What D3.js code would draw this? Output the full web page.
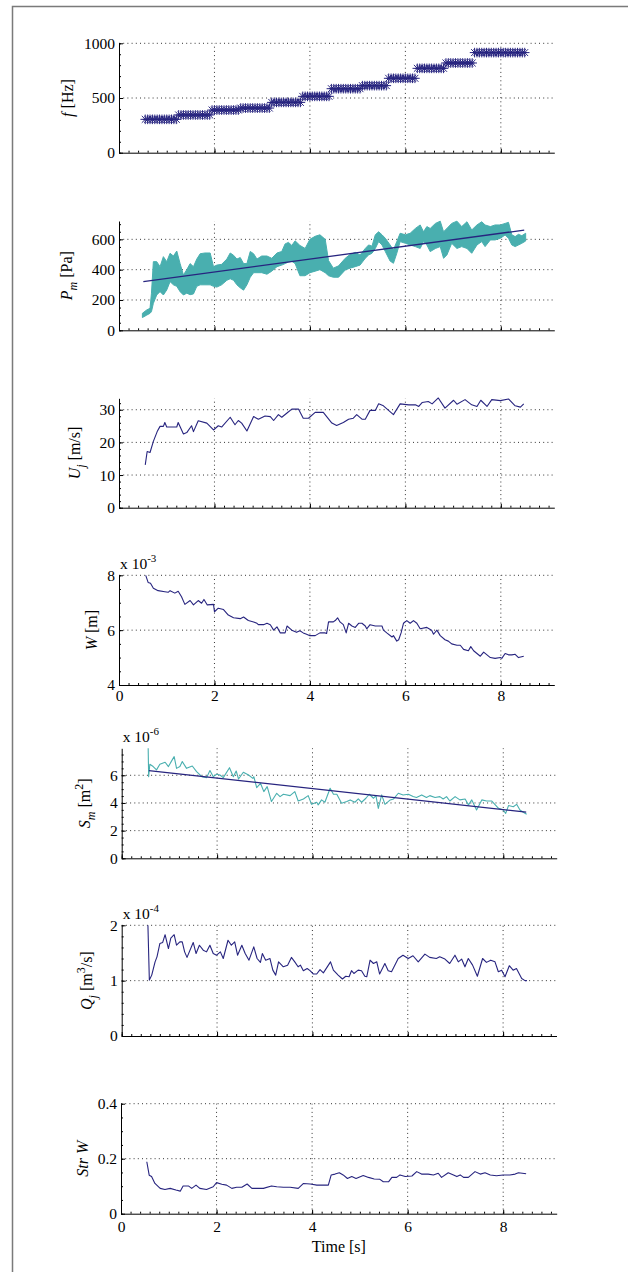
<!DOCTYPE html>
<html>
<head>
<meta charset="utf-8">
<script src="https://cdn.jsdelivr.net/npm/d3@7"></script>
<style>
body{margin:0;background:#fff;}
svg text{font-family:"Liberation Serif","Times New Roman",serif;fill:#000;}
.grid{stroke:#000;stroke-width:0.8;stroke-dasharray:1,3.2;}
</style>
</head>
<body>
<svg id="chart" width="628" height="1272"></svg>
<script>

//Shared x axis
var xMax = 9.12;
var xTicks = [0,2,4,6,8];

//f [Hz]: one value per analysis frame, frames every 0.05 s from 0.55 s
var fT0 = 0.55, fDt = 0.05;
var fHz = [
    305,305,305,305,305,305,305,305,305,305,305,305,305,305,
    345,345,345,345,345,345,345,345,345,345,345,345,345,345,
    390,390,390,390,390,390,390,390,390,390,390,390,
    408,408,408,408,408,408,408,408,408,408,408,408,408,
    460,460,460,460,460,460,460,460,460,460,460,460,460,
    515,515,515,515,515,515,515,515,515,515,515,515,
    585,585,585,585,585,585,585,585,585,585,585,585,585,
    613,613,613,613,613,613,613,613,613,613,613,
    680,680,680,680,680,680,680,680,680,680,680,680,
    771,771,771,771,771,771,771,771,771,771,771,771,
    820,820,820,820,820,820,820,820,820,820,820,820,
    915,915,915,915,915,915,915,915,915,915,915,915,915,915,915,915,915,915,915,915,915,915
];

//P_m [Pa]: envelope of the fast oscillating pressure + linear fit
var pT = [0.49,0.58,0.65,0.68,0.72,0.79,0.86,0.93,1.00,1.07,1.14,1.21,1.28,1.35,1.42,1.49,1.56,1.63,1.70,1.80,
    1.91,1.98,2.05,2.15,2.26,2.33,2.40,2.47,2.54,2.61,2.68,2.75,2.82,2.89,2.99,3.10,3.20,3.31,3.41,3.48,
    3.55,3.62,3.69,3.79,3.90,4.00,4.11,4.21,4.32,4.39,4.49,4.60,4.74,4.84,4.95,5.05,5.16,5.23,5.30,5.37,
    5.44,5.51,5.58,5.68,5.75,5.82,5.89,6.00,6.10,6.21,6.31,6.38,6.45,6.52,6.63,6.73,6.80,6.87,6.97,7.08,
    7.18,7.29,7.39,7.50,7.60,7.67,7.78,7.88,7.99,8.09,8.16,8.23,8.30,8.37,8.44,8.52];
var pLo = [84,100,112,123,178,233,255,233,266,321,300,290,255,233,245,235,240,290,300,300,
    300,290,285,300,330,340,330,300,280,265,300,350,380,380,380,370,390,420,430,440,
    450,455,440,360,360,380,390,400,380,360,350,350,398,410,420,430,475,497,508,540,
    585,563,519,457,442,508,585,574,563,552,540,585,563,519,540,552,475,497,574,540,
    552,540,508,563,585,552,596,596,607,629,607,563,552,563,574,589];
var pHi = [112,134,145,244,453,453,420,486,453,508,490,523,440,365,400,440,420,470,505,510,
    510,420,430,435,470,510,495,470,480,440,440,520,505,470,490,490,475,510,520,570,
    580,560,590,560,540,600,620,630,600,460,410,425,475,500,514,497,540,563,555,630,
    650,630,607,563,530,585,640,630,640,672,695,650,684,672,705,720,650,672,705,720,
    684,716,662,695,716,695,684,695,695,705,712,630,618,633,624,640];
var pFitT = [0.51, 8.49];
var pFitV = [321, 661];

//U_j [m/s]
var uT = [0.55,0.59,0.65,0.72,0.80,0.86,0.93,0.96,1.00,1.21,1.24,1.35,1.42,1.52,1.56,1.66,1.84,1.98,2.08,2.15,
    2.33,2.43,2.50,2.57,2.68,2.82,2.92,3.06,3.17,3.24,3.34,3.41,3.52,3.62,3.76,3.86,3.97,4.11,4.28,4.46,
    4.56,4.70,4.81,4.91,4.98,5.09,5.16,5.26,5.37,5.44,5.54,5.75,5.89,6.07,6.21,6.28,6.35,6.48,6.56,6.69,
    6.83,7.01,7.08,7.25,7.39,7.50,7.58,7.71,7.81,7.99,8.16,8.30,8.41,8.48];
var uV = [13.1,17.2,16.9,20.3,23.3,24.9,24.9,26.1,24.7,24.7,26.1,22.6,23.0,25.1,23.3,26.6,25.9,23.8,25.1,24.7,
    27.7,25.4,26.7,25.9,23.5,27.9,27.1,28.1,27.9,26.7,28.5,27.7,29.0,30.2,30.2,27.4,27.4,29.2,29.2,25.9,
    25.2,26.1,27.1,27.4,28.5,27.1,27.1,29.8,29.8,31.8,31.2,28.5,31.8,31.5,31.5,31.0,32.2,32.5,31.8,33.6,
    30.5,32.9,31.7,33.1,31.5,31.0,32.9,31.0,33.1,32.8,33.3,31.2,30.8,31.8];

//W [m] (x 10^-3)
var wT = [0.56,0.61,0.66,0.72,0.82,0.96,1.03,1.07,1.17,1.24,1.31,1.38,1.49,1.56,1.66,1.73,1.78,1.85,1.98,2.00,
    2.08,2.19,2.29,2.40,2.54,2.61,2.71,2.82,2.89,2.92,3.03,3.10,3.17,3.24,3.31,3.38,3.48,3.52,3.62,3.72,
    3.79,3.86,3.93,4.00,4.11,4.21,4.32,4.35,4.39,4.49,4.53,4.58,4.63,4.70,4.76,4.81,4.88,4.95,5.02,5.09,
    5.16,5.19,5.26,5.37,5.51,5.54,5.61,5.72,5.75,5.82,5.86,5.91,5.96,6.03,6.10,6.17,6.24,6.31,6.45,6.55,
    6.59,6.66,6.73,6.83,6.90,6.97,7.08,7.15,7.22,7.32,7.37,7.43,7.50,7.57,7.64,7.71,7.78,7.88,7.99,8.02,
    8.09,8.16,8.23,8.30,8.37,8.48];
var wV = [8.0,7.74,7.71,7.53,7.44,7.40,7.38,7.44,7.35,7.42,7.22,6.94,7.08,6.92,7.08,6.98,7.12,6.92,6.94,6.67,
    6.80,6.75,6.55,6.45,6.42,6.48,6.35,6.30,6.25,6.20,6.20,6.25,6.20,6.00,6.12,5.90,5.90,6.15,6.00,5.92,
    5.98,5.90,5.85,5.80,5.80,5.90,5.90,5.88,6.30,6.30,6.35,6.45,6.30,6.20,5.90,6.25,6.15,6.10,6.25,6.25,
    6.15,6.05,6.20,6.15,6.15,6.00,5.90,5.75,5.80,5.60,5.65,5.90,6.25,6.35,6.25,6.35,6.25,6.05,6.10,6.00,
    5.85,6.00,5.80,5.65,5.60,5.50,5.45,5.45,5.30,5.25,5.40,5.25,5.15,5.05,5.20,5.10,5.00,4.97,5.00,4.97,
    5.15,5.10,5.10,5.12,5.00,5.05];

//S_m [m^2] (x 10^-6) + linear fit
var sT = [0.555,0.565,0.59,0.66,0.73,0.80,0.91,0.98,1.05,1.10,1.15,1.22,1.27,1.36,1.48,1.57,1.68,1.78,1.85,1.92,
    1.99,2.06,2.13,2.26,2.34,2.40,2.45,2.55,2.66,2.75,2.77,2.83,2.91,2.98,3.05,3.14,3.25,3.32,3.39,3.53,
    3.63,3.70,3.81,3.91,3.98,4.09,4.12,4.19,4.26,4.37,4.44,4.51,4.61,4.72,4.79,4.89,4.96,5.03,5.12,5.19,
    5.28,5.33,5.38,5.45,5.52,5.63,5.70,5.80,5.90,6.01,6.11,6.18,6.29,6.39,6.46,6.57,6.67,6.74,6.81,6.88,
    6.99,7.09,7.20,7.27,7.34,7.44,7.55,7.65,7.76,7.90,8.00,8.05,8.11,8.21,8.28,8.35,8.42,8.49];
var sV = [7.95,5.9,6.8,6.63,6.39,6.8,6.94,6.63,7.06,7.35,6.5,6.63,6.99,6.5,6.67,6.27,5.9,5.83,6.34,5.9,
    6.07,6.02,5.83,6.55,5.9,6.31,5.73,6.22,6.02,5.78,5.9,5.11,5.42,4.82,5.18,4.1,4.7,4.46,4.63,4.53,
    4.82,4.14,4.29,4.53,3.9,4.05,3.86,4.22,4.05,5.06,4.63,4.63,3.98,4.1,4.22,4.05,4.29,4.05,4.34,4.63,
    4.34,4.53,3.61,4.58,3.9,4.22,4.29,4.7,4.58,4.63,4.46,4.39,4.58,4.39,4.53,4.39,4.46,4.29,4.46,4.14,
    4.46,4.22,4.29,3.86,4.22,3.49,4.22,4.14,4.14,3.61,3.49,3.25,3.81,3.73,3.9,3.49,3.33,3.18];
var sFitT = [0.57, 8.48];
var sFitV = [6.34, 3.33];

//Q_j [m^3/s] (x 10^-4)
var qT = [0.55,0.58,0.63,0.70,0.74,0.80,0.86,0.91,0.98,1.03,1.10,1.15,1.22,1.27,1.32,1.37,1.50,1.56,1.63,1.71,
    1.78,1.85,1.92,1.99,2.07,2.13,2.23,2.30,2.37,2.43,2.52,2.59,2.67,2.77,2.84,2.91,2.95,3.02,3.11,3.17,
    3.23,3.29,3.39,3.48,3.56,3.63,3.70,3.75,3.81,3.89,3.95,4.02,4.09,4.16,4.23,4.38,4.44,4.54,4.63,4.70,
    4.77,4.82,4.87,4.96,5.03,5.10,5.14,5.21,5.28,5.35,5.41,5.52,5.59,5.66,5.80,5.90,6.01,6.11,6.22,6.36,
    6.46,6.60,6.67,6.78,6.88,6.99,7.06,7.13,7.20,7.27,7.36,7.46,7.57,7.65,7.74,7.83,7.90,7.97,8.04,8.13,
    8.21,8.28,8.39,8.46,8.50];
var qV = [2.0,1.01,1.1,1.34,1.43,1.67,1.69,1.83,1.58,1.77,1.83,1.64,1.7,1.7,1.52,1.42,1.69,1.49,1.64,1.55,
    1.52,1.64,1.49,1.46,1.52,1.4,1.73,1.64,1.7,1.46,1.64,1.49,1.37,1.61,1.4,1.33,1.49,1.37,1.4,1.19,
    1.1,1.34,1.25,1.28,1.42,1.34,1.25,1.28,1.18,1.22,1.18,1.12,1.12,1.2,1.14,1.34,1.19,1.1,1.03,1.08,
    1.07,1.18,1.13,1.19,1.18,1.08,1.07,1.37,1.31,1.34,1.12,1.31,1.18,1.16,1.4,1.46,1.4,1.45,1.34,1.48,
    1.42,1.4,1.43,1.39,1.31,1.46,1.34,1.39,1.25,1.4,1.28,1.08,1.4,1.33,1.37,1.34,1.16,1.19,1.07,1.27,
    1.19,1.22,1.04,1.0,1.0];

//Str W
var stT = [0.54,0.59,0.64,0.71,0.82,0.92,1.03,1.15,1.24,1.30,1.41,1.48,1.57,1.65,1.79,1.93,2.00,2.11,2.21,2.32,
    2.42,2.53,2.64,2.74,2.84,2.98,3.15,3.26,3.40,3.54,3.71,3.82,3.96,4.10,4.34,4.40,4.48,4.57,4.65,4.74,
    4.83,4.92,5.07,5.18,5.30,5.42,5.49,5.60,5.67,5.77,5.84,5.95,6.09,6.19,6.29,6.43,6.54,6.64,6.71,6.85,
    6.96,7.03,7.10,7.17,7.27,7.41,7.52,7.62,7.73,7.86,8.00,8.14,8.25,8.32,8.48];
var stV = [0.189,0.14,0.135,0.11,0.092,0.088,0.092,0.086,0.082,0.101,0.101,0.092,0.104,0.092,0.088,0.098,0.113,0.107,0.104,0.092,
    0.096,0.096,0.108,0.092,0.092,0.092,0.101,0.098,0.096,0.096,0.092,0.11,0.108,0.104,0.104,0.141,0.144,0.149,0.141,0.128,
    0.135,0.128,0.139,0.132,0.126,0.125,0.116,0.116,0.132,0.132,0.141,0.135,0.137,0.153,0.144,0.144,0.141,0.147,0.132,0.149,
    0.141,0.135,0.141,0.132,0.132,0.153,0.144,0.149,0.141,0.138,0.141,0.141,0.144,0.149,0.145];


var navy = "#27247f";
var teal = "#49afaf";
var svg = d3.select("#chart");
var plain = function(d){ return String(d); };


//**************************************************************************
//** frame
//**************************************************************************
svg.append("path")
    .attr("d", "M12.5,1272V6.5H628")
    .attr("fill", "none")
    .attr("stroke", "#7a7a7a")
    .attr("stroke-width", 1.5);


//**************************************************************************
//** minorTicks
//**************************************************************************
var minorTicks = function(lo, hi, step){
    var n = Math.floor((hi-lo)/step + 1e-6);
    return d3.range(n+1).map(function(i){ return lo + i*step; });
};


//**************************************************************************
//** drawPanel
//**************************************************************************
var drawPanel = function(cfg){
    var x = d3.scaleLinear().domain([0, xMax]).range([cfg.left, cfg.right]);
    var y = d3.scaleLinear().domain(cfg.yDomain).range([cfg.bottom, cfg.top]);
    var g = svg.append("g");

    //Gridlines
    g.append("g").selectAll("line")
        .data(cfg.yTicks.filter(function(d){ return d > cfg.yDomain[0]; }))
        .join("line")
        .attr("class", "grid")
        .attr("x1", cfg.left).attr("x2", cfg.right)
        .attr("y1", function(d){ return y(d); })
        .attr("y2", function(d){ return y(d); });

    g.append("g").selectAll("line")
        .data(xTicks.filter(function(d){ return d > 0; }))
        .join("line")
        .attr("class", "grid")
        .attr("y1", cfg.bottom).attr("y2", cfg.top)
        .attr("x1", function(d){ return x(d); })
        .attr("x2", function(d){ return x(d); });

    //Minor ticks
    g.append("g")
        .attr("transform", "translate(" + cfg.left + ",0)")
        .call(d3.axisLeft(y).tickValues(minorTicks(cfg.yDomain[0], cfg.yDomain[1], cfg.yMinor)).tickSize(-2).tickFormat(""))
        .call(function(s){ s.select(".domain").remove(); });

    g.append("g")
        .attr("transform", "translate(0," + cfg.bottom + ")")
        .call(d3.axisBottom(x).tickValues(minorTicks(0, xMax, 0.2)).tickSize(-2).tickFormat(""))
        .call(function(s){ s.select(".domain").remove(); });

    //Y axis
    g.append("g")
        .attr("transform", "translate(" + cfg.left + ",0)")
        .call(d3.axisLeft(y).tickValues(cfg.yTicks).tickFormat(plain).tickSizeInner(-4).tickSizeOuter(0).tickPadding(4))
        .attr("font-family", null).attr("font-size", 15.5);

    //X axis
    var xAxis = d3.axisBottom(x).tickValues(xTicks).tickSizeInner(-4).tickSizeOuter(0);
    if (cfg.xPad) xAxis.tickPadding(cfg.xPad).tickFormat(plain);
    else xAxis.tickFormat("");
    g.append("g")
        .attr("transform", "translate(0," + cfg.bottom + ")")
        .call(xAxis)
        .attr("font-family", null).attr("font-size", 15.5);

    g.selectAll(".domain, .tick line").attr("stroke", "#000");

    //Y label
    var label = g.append("text")
        .attr("transform", "translate(" + cfg.labelX + "," + ((cfg.top+cfg.bottom)/2) + ") rotate(-90)")
        .attr("text-anchor", "middle")
        .attr("font-size", 16);
    cfg.label.forEach(function(p){
        var ts = label.append("tspan").text(p.t);
        if (p.i) ts.attr("font-style", "italic");
        if (p.dy) ts.attr("dy", p.dy);
        if (p.s) ts.attr("font-size", p.s);
    });

    //Exponent
    if (cfg.exp){
        var e = g.append("text")
            .attr("x", cfg.left + 1)
            .attr("y", cfg.top - 6)
            .attr("font-size", 15.5)
            .text("x 10");
        e.append("tspan").attr("dy", -7).attr("font-size", 11).text(cfg.exp);
    }

    return {x: x, y: y, g: g};
};


//**************************************************************************
//** drawLine
//**************************************************************************
var drawLine = function(p, ts, vs, color, width){
    p.g.append("path")
        .datum(d3.range(ts.length))
        .attr("fill", "none")
        .attr("stroke", color)
        .attr("stroke-width", width || 1.1)
        .attr("stroke-linejoin", "round")
        .attr("d", d3.line()
            .x(function(i){ return p.x(ts[i]); })
            .y(function(i){ return p.y(vs[i]); }));
};


//Panel 1: f
var p1 = drawPanel({left:119, right:554.3, top:43.3, bottom:152.7, yDomain:[0,1000], yTicks:[0,500,1000], yMinor:100,
    labelX:73, label:[{t:"f", i:1},{t:" [Hz]"}]});
var star = function(r){
    var d = r*0.72;
    return "M" + (-r) + ",0H" + r + "M0," + (-r) + "V" + r +
        "M" + (-d) + "," + (-d) + "L" + d + "," + d + "M" + (-d) + "," + d + "L" + d + "," + (-d);
};
p1.g.append("g").selectAll("path")
    .data(fHz)
    .join("path")
    .attr("transform", function(d, i){ return "translate(" + p1.x(fT0 + i*fDt) + "," + p1.y(d) + ")"; })
    .attr("d", star(4.8))
    .attr("fill", "none")
    .attr("stroke", navy)
    .attr("stroke-width", 1);

//Panel 2: P_m
var p2 = drawPanel({left:119, right:554.3, top:221, bottom:330.3, yDomain:[0,721], yTicks:[0,200,400,600], yMinor:50,
    labelX:72, label:[{t:"P", i:1},{t:"m", i:1, s:12, dy:5},{t:" [Pa]", dy:-5}]});
p2.g.append("path")
    .datum(d3.range(pT.length))
    .attr("fill", teal)
    .attr("stroke", teal)
    .attr("stroke-width", 1)
    .attr("d", d3.area()
        .x(function(i){ return p2.x(pT[i]); })
        .y0(function(i){ return p2.y(pLo[i]); })
        .y1(function(i){ return p2.y(pHi[i]); }));
drawLine(p2, pFitT, pFitV, navy, 1.3);

//Panel 3: U_j
var p3 = drawPanel({left:119, right:554.3, top:398.3, bottom:507.7, yDomain:[0,33.5], yTicks:[0,10,20,30], yMinor:2,
    labelX:80, label:[{t:"U", i:1},{t:"j", i:1, s:12, dy:5},{t:" [m/s]", dy:-5}]});
drawLine(p3, uT, uV, navy);

//Panel 4: W
var p4 = drawPanel({left:119, right:554.3, top:575.3, bottom:685, yDomain:[4,8], yTicks:[4,6,8], yMinor:0.5,
    labelX:97, label:[{t:"W", i:1},{t:" [m]"}], exp:"-3", xPad:5});
drawLine(p4, wT, wV, navy);

//Panel 5: S_m
var p5 = drawPanel({left:121.7, right:556.7, top:748.3, bottom:858.3, yDomain:[0,7.95], yTicks:[0,2,4,6], yMinor:0.5,
    labelX:90, label:[{t:"S", i:1},{t:"m", i:1, s:12, dy:5},{t:" [m", dy:-5},{t:"2", s:12, dy:-7},{t:"]", dy:7}], exp:"-6"});
drawLine(p5, sT, sV, teal);
drawLine(p5, sFitT, sFitV, navy, 1.3);

//Panel 6: Q_j
var p6 = drawPanel({left:121.7, right:556.5, top:925.3, bottom:1036, yDomain:[0,2], yTicks:[0,1,2], yMinor:0.2,
    labelX:92, label:[{t:"Q", i:1},{t:"j", i:1, s:12, dy:5},{t:" [m", dy:-5},{t:"3", s:12, dy:-7},{t:"/s]", dy:7}], exp:"-4"});
drawLine(p6, qT, qV, navy);

//Panel 7: Str W
var p7 = drawPanel({left:121, right:556.7, top:1103.7, bottom:1213.7, yDomain:[0,0.4], yTicks:[0,0.2,0.4], yMinor:0.05,
    labelX:88, label:[{t:"Str W", i:1}], xPad:7});
drawLine(p7, stT, stV, navy);

svg.append("text")
    .attr("x", (121+556.7)/2)
    .attr("y", 1252)
    .attr("text-anchor", "middle")
    .attr("font-size", 16)
    .text("Time [s]");

</script>
</body>
</html>
